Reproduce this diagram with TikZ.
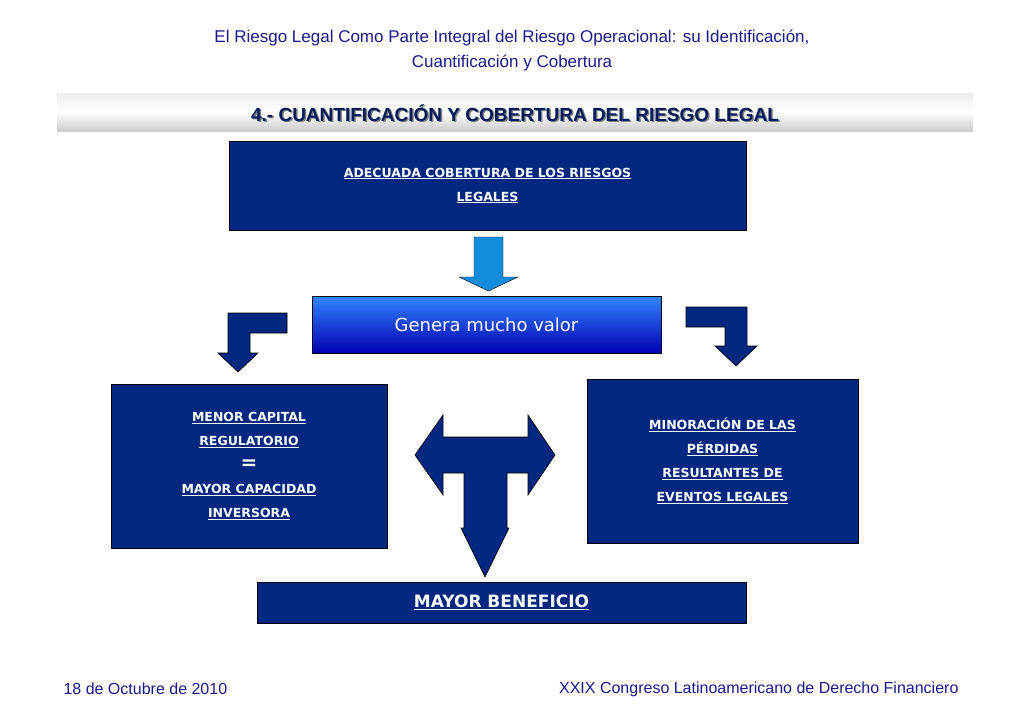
\documentclass[tikz,border=0pt]{standalone}
\usepackage{fontspec}
\setmainfont{Liberation Sans}
\newfontfamily\boxfont{DejaVu Sans}
\definecolor{navy}{RGB}{0,40,128}
\definecolor{titleblue}{RGB}{26,26,140}
\definecolor{skyblue}{RGB}{20,140,220}
\newcommand{\ulin}[1]{\underline{#1}}
\tikzset{
  bluebox/.style={draw=black, fill=navy, text=white, align=center, font=\boxfont\bfseries\fontsize{12.5}{24}\selectfont},
  bigarrow/.style={draw=black, fill=navy, line width=0.6pt}
}
\begin{document}
\begin{tikzpicture}[x=1pt,y=-1pt]
\useasboundingbox (0,0) rectangle (1024,724);
\fill [white] (0,0) rectangle (1024,724);
% header
\node (title) at (512,50) [text=titleblue, align=center, font=\fontsize{17}{25}\selectfont] {El Riesgo Legal Como Parte Integral del Riesgo Operacional: su Identificación,\\Cuantificación y Cobertura};
\shade [top color=gray!15, bottom color=gray!40, middle color=white] (57,93) rectangle (973,131);
\node (sectshadow) at (516.5,114.5) [text=gray, font=\bfseries\fontsize{19}{22}\selectfont] {4.- CUANTIFICACIÓN Y COBERTURA DEL RIESGO LEGAL};
\node (sect) at (515,113) [text=navy!70!black, font=\bfseries\fontsize{19}{22}\selectfont] {4.- CUANTIFICACIÓN Y COBERTURA DEL RIESGO LEGAL};
% boxes
\node (cobertura) [bluebox, minimum width=517, minimum height=89] at (487.5,185.5) {\ulin{ADECUADA COBERTURA DE LOS RIESGOS}\\\ulin{LEGALES}};
\shade [top color=blue!60!cyan!80!white, bottom color=blue!70!black, draw=black] (312,296) rectangle (661,353);
\node (valor) at (486.5,324.5) [text=white, font=\boxfont\fontsize{18}{20}\selectfont] {Genera mucho valor};
\node (capital) [bluebox, minimum width=276, minimum height=164] at (249,466) {\ulin{MENOR CAPITAL}\\\ulin{REGULATORIO}\\{\fontsize{20}{20}\selectfont =}\\\ulin{MAYOR CAPACIDAD}\\\ulin{INVERSORA}};
\node (perdidas) [bluebox, minimum width=271, minimum height=164] at (722.5,461) {\ulin{MINORACIÓN DE LAS}\\\ulin{PÉRDIDAS}\\\ulin{RESULTANTES DE}\\\ulin{EVENTOS LEGALES}};
\node (beneficio) [bluebox, minimum width=489, minimum height=41, font=\boxfont\bfseries\fontsize{17}{20}\selectfont] at (501.5,602.5) {\ulin{MAYOR BENEFICIO}};
% arrows
\draw [black, fill=skyblue] (474,237) -- (503,237) -- (503,277) -- (518,277) -- (488.5,291) -- (459,277) -- (474,277) -- cycle;
\draw [bigarrow] (287,313) -- (287,333) -- (250,333) -- (250,353) -- (258,353) -- (238,372) -- (218,353) -- (228,353) -- (228,313) -- cycle;
\draw [bigarrow] (686,307) -- (747,307) -- (747,346) -- (757,346) -- (736,366) -- (715,346) -- (725,346) -- (725,327) -- (686,327) -- cycle;
\draw [bigarrow] (415,455) -- (443,415) -- (443,437) -- (528,437) -- (528,415) -- (555,455) -- (528,495) -- (528,473) -- (507,473) -- (507,528) -- (509,528) -- (485,577) -- (461,528) -- (464,528) -- (464,473) -- (443,473) -- (443,495) -- cycle;
% footer
\node (fecha) at (60,689) [anchor=west, text=titleblue, font=\fontsize{16}{18}\selectfont] {18 de Octubre de 2010};
\node (congreso) at (962,689) [anchor=east, text=titleblue, font=\fontsize{16}{18}\selectfont] {XXIX Congreso Latinoamericano de Derecho Financiero};
\end{tikzpicture}
\end{document}
